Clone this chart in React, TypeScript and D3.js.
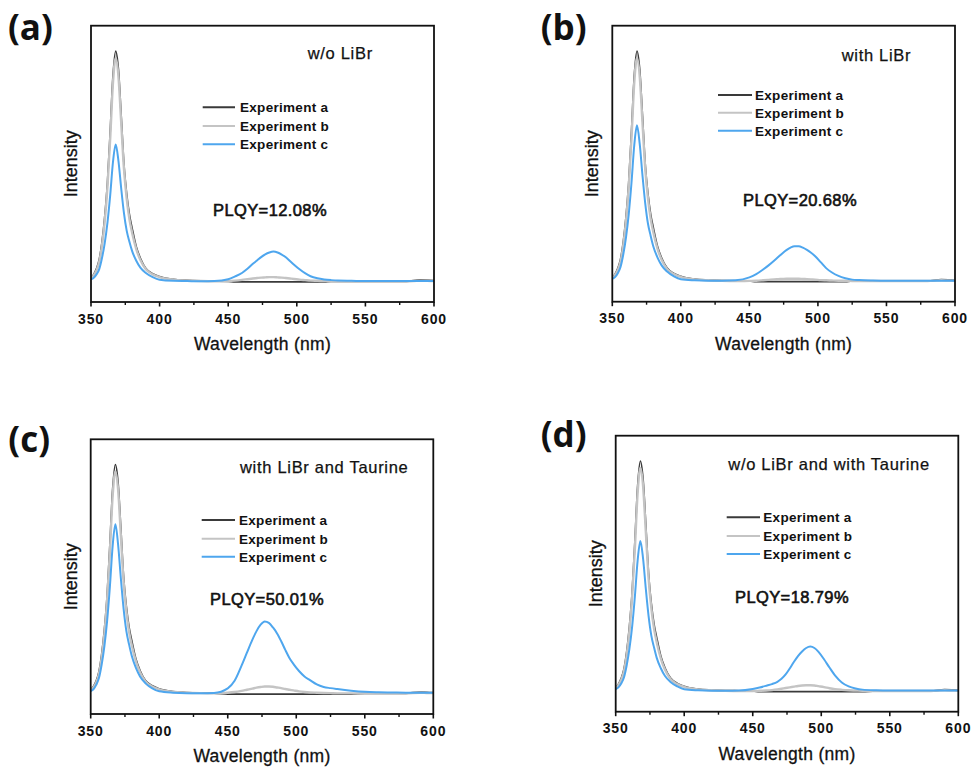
import React from 'react';
import * as d3 from 'd3';

// ---------- data ----------
const wavelengths = [350,352,354,356,358,360,362,364,366,368,370,372,374,376,378,380,383,386,390,395,400,410,420,430,440,450,455,460,464,468,471,474,477,480,483,486,489,492,495,498,502,506,510,515,520,525,530,540,550,560,570,580,590,595,600];

const xMajorTicks = [350, 400, 450, 500, 550, 600];
const xMinorTicks = [375, 425, 475, 525, 575];

const seriesNames = ['Experiment a', 'Experiment b', 'Experiment c'];
const panelLetters = ['(a)', '(b)', '(c)', '(d)'];
const panelTitles = ['w/o LiBr', 'with LiBr', 'with LiBr and Taurine', 'w/o LiBr and with Taurine'];
const plqyLabels = ['PLQY=12.08%', 'PLQY=20.68%', 'PLQY=50.01%', 'PLQY=18.79%'];

// Experiment a (dark)
const expA_a = [1.5,3,5.5,9.5,17,28,43,65,89,100,92,72,51,38,29,23,15,10,5.6,3.3,2.0,0.8,0.4,0.2,0.1,0,-0.3,-0.3,-0.3,-0.3,-0.3,-0.3,-0.3,-0.3,-0.3,-0.3,-0.3,-0.3,-0.3,-0.3,-0.3,-0.3,-0.3,-0.3,-0.3,0,0,0,0,0,0,0,0.6,0.5,0.3];
const expA_b = [1.5,3,5.5,9.5,17,28,43,65,89,100,92,72,51,38,29,23,15,10,5.6,3.3,2.0,0.8,0.4,0.2,0.1,0,-0.3,-0.3,-0.3,-0.3,-0.3,-0.3,-0.3,-0.3,-0.3,-0.3,-0.3,-0.3,-0.3,-0.3,-0.3,-0.3,-0.3,-0.3,-0.3,0,0,0,0,0,0,0,0.6,0.5,0.3];
const expA_c = [1.5,3,5.5,9.5,17,28,43,65,89,100,92,72,51,38,29,23,15,10,5.6,3.3,2.0,0.8,0.4,0.2,0.1,-0.3,-0.3,-0.3,-0.3,-0.3,-0.3,-0.3,-0.3,-0.3,-0.3,-0.3,-0.3,-0.3,-0.3,-0.3,-0.3,-0.3,-0.3,-0.3,-0.3,-0.3,-0.3,-0.3,0,0,0,0,0.6,0.5,0.3];
const expA_d = [1.5,3,5.5,9.5,17,28,43,65,89,100,92,72,51,38,29,23,15,10,5.6,3.3,2.0,0.8,0.4,0.2,0.1,0,-0.3,-0.3,-0.3,-0.3,-0.3,-0.3,-0.3,-0.3,-0.3,-0.3,-0.3,-0.3,-0.3,-0.3,-0.3,-0.3,-0.3,-0.3,-0.3,-0.3,-0.3,0,0,0,0,0,0.6,0.5,0.3];

// Experiment b (light grey)
const expB_a = [1.2,2.6,4.8,8.5,15.5,26,41,62,86,97,89,69,49,36,27,21,14,9.2,5.2,3.0,1.8,0.7,0.3,0.1,0,0.1,0.3,0.6,0.9,1.2,1.4,1.6,1.7,1.8,1.8,1.7,1.6,1.4,1.2,1.0,0.7,0.5,0.3,0.2,0.1,0,0,0,0,0,0,0,0.3,0.2,0.1];
const expB_b = [1.2,2.6,4.8,8.5,15.5,26,41,62,86,97,89,69,49,36,27,21,14,9.2,5.2,3.0,1.8,0.7,0.3,0.1,0,0.05,0.1,0.3,0.5,0.7,0.8,0.9,1.0,1.0,1.0,1.0,0.9,0.8,0.7,0.6,0.4,0.3,0.2,0.1,0.1,0,0,0,0,0,0,0,0.3,0.2,0.1];
const expB_c = [1.2,2.6,4.8,8.5,15.5,26,41,62,86,97,89,69,49,36,27,21,14,9.2,5.2,3.0,1.8,0.7,0.3,0.1,0,0.3,0.6,1.1,1.6,2.1,2.5,2.8,3.0,3.0,2.9,2.6,2.3,1.9,1.6,1.3,0.9,0.6,0.4,0.3,0.2,0.1,0,0,0,0,0,0,0.3,0.2,0.1];
const expB_d = [1.2,2.6,4.8,8.5,15.5,26,41,62,86,97,89,69,49,36,27,21,14,9.2,5.2,3.0,1.8,0.7,0.3,0.1,0,0,0.1,0.2,0.4,0.7,1.0,1.3,1.6,1.9,2.2,2.4,2.5,2.5,2.4,2.1,1.7,1.2,0.8,0.5,0.3,0.2,0.1,0,0,0,0,0,0.3,0.2,0.1];

// Experiment c (blue)
const expC_a = [0.8,1.5,3.0,5.3,10.1,16.6,25.5,37.4,51.7,59.4,52.3,40.4,29.7,22.0,17.2,13.1,8.9,5.9,3.6,1.8,0.7,0.2,0.1,0,0.1,0.9,2.1,3.6,5.4,7.6,9.0,10.5,11.7,12.5,12.9,12.5,11.6,10.4,8.8,7.2,5.2,3.5,2.2,1.3,0.8,0.5,0.3,0.2,0.1,0.1,0.1,0.1,0.1,0.1,0.1];
const expC_b = [0.9,1.7,3.4,6.1,11.5,19.0,29.1,42.7,58.9,67.7,59.6,46.0,33.9,25.0,19.6,14.9,10.2,6.8,4.1,2.0,0.8,0.3,0.1,0.1,0.3,1.6,3.0,5.0,6.8,8.8,10.4,12.0,13.4,14.5,15.1,15.1,14.5,13.5,12.3,10.8,8.2,5.6,3.8,2.2,1.2,0.6,0.4,0.2,0.1,0.1,0.1,0.1,0.1,0.1,0.1];
const expC_c = [1.0,1.8,3.7,6.7,12.6,20.7,31.8,46.6,64.3,73.9,65.0,50.3,37.0,27.3,21.4,16.3,11.1,7.4,4.4,2.2,0.9,0.3,0.1,0.1,0.2,2.2,5.5,12.0,17.8,23.5,27.2,30.0,31.4,30.8,28.8,26.2,22.8,19.0,15.5,12.8,9.8,7.4,5.8,3.9,2.8,2.3,1.9,1.2,0.7,0.5,0.4,0.3,0.3,0.3,0.3];
const expC_d = [0.8,1.6,3.3,5.9,11.1,18.3,28.0,41.1,56.7,65.2,57.4,44.3,32.6,24.1,18.9,14.3,9.8,6.5,3.9,2.0,0.8,0.3,0.1,0.1,0.2,0.9,1.5,2.3,3.0,4.0,5.3,7.2,9.8,12.6,15.2,17.2,18.7,19.3,18.7,17.0,13.8,10.2,6.8,3.7,2.0,1.1,0.6,0.3,0.2,0.2,0.2,0.2,0.2,0.2,0.2];

const panelSeries = [
  [expA_a, expB_a, expC_a],
  [expA_b, expB_b, expC_b],
  [expA_c, expB_c, expC_c],
  [expA_d, expB_d, expC_d],
];

// ---------- layout / style ----------
const W = 973;
const H = 771;
const FONT = "'Liberation Sans', Arial, sans-serif";
const colors = ['#3a3a3a', '#c4c4c4', '#4ea6ee'];
const widths = [1.7, 2.4, 2.0];
const yDomain = [-9, 111];

const layouts = [
  { frame: [91, 25.7, 434, 302], letter: [8, 30], title: [307.7, 53.3], plqy: [213, 210], legend: [202.7, 235, 240, [107.3, 126, 144.3]] },
  { frame: [612.3, 25.7, 955, 301.7], letter: [540.7, 30], title: [841.7, 55], plqy: [743, 200], legend: [718, 752, 755, [95, 112.7, 130.7]] },
  { frame: [90.7, 439.3, 433.3, 714], letter: [8.3, 441.7], title: [240, 466.7], plqy: [210, 599.3], legend: [201.7, 235, 239, [520, 538.7, 556.7]] },
  { frame: [615.7, 435.7, 958.3, 711.7], letter: [540.7, 436.7], title: [728.3, 464], plqy: [735, 596.7], legend: [726.7, 760, 763.3, [517.3, 536, 554]] },
];

function Panel({ idx }: { idx: number }) {
  const L = layouts[idx];
  const [x0, y0, x1, y1] = L.frame;
  const x = d3.scaleLinear().domain([350, 600]).range([x0, x1]);
  const y = d3.scaleLinear().domain(yDomain).range([y1, y0]);
  const series = panelSeries[idx];
  const clipId = `clip-${idx}`;
  const line = (vals: number[]) =>
    d3
      .line<number>()
      .x((_, i) => x(wavelengths[i]))
      .y((v) => y(v))
      .curve(d3.curveMonotoneX)(vals) || '';
  const [lx0, lx1, ltx, rows] = L.legend as [number, number, number, number[]];
  return (
    <g>
      <defs>
        <clipPath id={clipId}>
          <rect x={x0} y={y0} width={x1 - x0} height={y1 - y0} />
        </clipPath>
      </defs>
      {/* panel letter */}
      <text x={L.letter[0]} y={L.letter[1] + 10} fontFamily="'Open Sans', 'Noto Sans', sans-serif" fontWeight={700} fontSize={35} fill="#111">
        {panelLetters[idx]}
      </text>
      {/* curves */}
      <g clipPath={`url(#${clipId})`}>
        {series.map((vals, s) => (
          <path
            key={s}
            d={line(vals)}
            fill="none"
            stroke={colors[s]}
            strokeWidth={widths[s]}
            strokeLinejoin="round"
          />
        ))}
      </g>
      {/* frame */}
      <rect x={x0} y={y0} width={x1 - x0} height={y1 - y0} fill="none" stroke="#111" strokeWidth={1.8} />
      {/* ticks */}
      {xMajorTicks.map((t) => (
        <g key={`M${t}`}>
          <line x1={x(t)} x2={x(t)} y1={y1} y2={y1 + 4.5} stroke="#111" strokeWidth={1.6} />
          <text x={x(t)} y={y1 + 21.6} textAnchor="middle" fontFamily={FONT} fontWeight={700} fontSize={14} letterSpacing={0.9} fill="#111">
            {t}
          </text>
        </g>
      ))}
      {xMinorTicks.map((t) => (
        <line key={`m${t}`} x1={x(t)} x2={x(t)} y1={y1} y2={y1 + 3} stroke="#111" strokeWidth={1.4} />
      ))}
      {/* axis titles */}
      <text x={(x0 + x1) / 2} y={y1 + 47.8} textAnchor="middle" fontFamily={FONT} fontSize={17.5} letterSpacing={0.3} fill="#111" stroke="#111" strokeWidth={0.3}>
        Wavelength (nm)
      </text>
      <text
        transform={`translate(${x0 - 14},${(y0 + y1) / 2}) rotate(-90)`}
        textAnchor="middle"
        fontFamily={FONT}
        fontSize={18}
        fill="#111"
        stroke="#111"
        strokeWidth={0.3}
      >
        Intensity
      </text>
      {/* condition title */}
      <text x={L.title[0]} y={L.title[1] + 5.9} fontFamily={FONT} fontSize={16.5} letterSpacing={0.7} fill="#111" stroke="#111" strokeWidth={0.25}>
        {panelTitles[idx]}
      </text>
      {/* PLQY */}
      <text x={L.plqy[0]} y={L.plqy[1] + 5.9} fontFamily={FONT} fontSize={16.5} letterSpacing={0.4} fill="#111" stroke="#111" strokeWidth={0.6}>
        {plqyLabels[idx]}
      </text>
      {/* legend */}
      {seriesNames.map((name, s) => (
        <g key={name}>
          <line x1={lx0} x2={lx1} y1={rows[s]} y2={rows[s]} stroke={colors[s]} strokeWidth={2} />
          <text x={ltx} y={rows[s] + 4.8} fontFamily={FONT} fontWeight={700} fontSize={13.5} letterSpacing={0.3} fill="#111">
            {name}
          </text>
        </g>
      ))}
    </g>
  );
}

export default function App() {
  return (
    <svg width={W} height={H} viewBox={`0 0 ${W} ${H}`} style={{ position: 'absolute', left: 0, top: 0, background: '#fff' }}>
      <rect x={0} y={0} width={W} height={H} fill="#fff" />
      {[0, 1, 2, 3].map((i) => (
        <Panel key={i} idx={i} />
      ))}
    </svg>
  );
}
